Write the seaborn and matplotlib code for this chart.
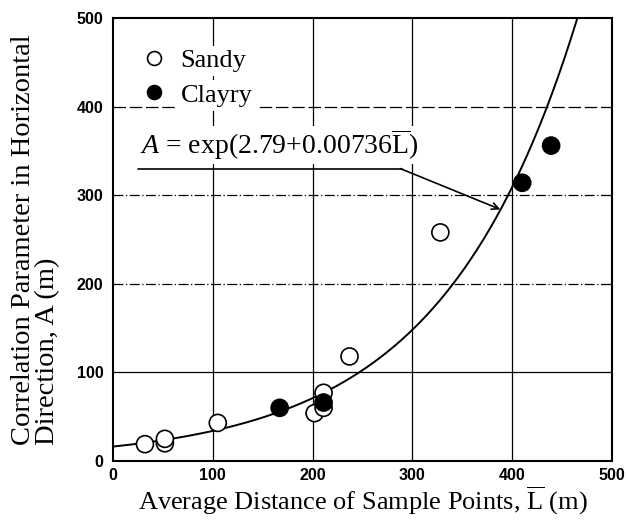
import numpy as np
import matplotlib
matplotlib.use("Agg")
import matplotlib.pyplot as plt
import seaborn as sns
import pandas as pd
from matplotlib.lines import Line2D

# ---- data ----
sandy_x = [32, 52, 52, 105, 202, 211, 211, 237, 328]
sandy_y = [19, 20, 25, 43, 54, 60, 77, 118, 258]
clayry_x = [167, 211, 410, 439]
clayry_y = [60, 66, 314, 356]
fit_intercept = 2.79
fit_slope = 0.00736
x_ticks = [0, 100, 200, 300, 400, 500]
y_ticks = [0, 100, 200, 300, 400, 500]

df = pd.DataFrame({
    "L": sandy_x + clayry_x,
    "A": sandy_y + clayry_y,
    "soil": ["Sandy"] * len(sandy_x) + ["Clayry"] * len(clayry_x),
})

sns.set_theme(style="white")
plt.rcParams["font.family"] = ["Liberation Serif", "DejaVu Serif"]
plt.rcParams["mathtext.fontset"] = "custom"
plt.rcParams["mathtext.rm"] = "Liberation Serif"
plt.rcParams["mathtext.it"] = "Liberation Serif:italic"

fig = plt.figure(figsize=(6.29, 5.21), dpi=100)
ax = fig.add_axes([113 / 629, 60 / 521, 499 / 629, 443 / 521])

# fitted curve from the equation shown on the chart
Lc = np.linspace(0, 500, 400)
Ac = np.exp(fit_intercept + fit_slope * Lc)
ax.plot(Lc, Ac, color="black", lw=1.4, zorder=3)

sns.scatterplot(data=df, x="L", y="A", hue="soil", style="soil",
                palette={"Sandy": "white", "Clayry": "black"},
                markers={"Sandy": "o", "Clayry": "o"},
                edgecolor="black", linewidth=1.2, s=150, ax=ax, zorder=4,
                legend=False)

ax.set_xlim(0, 500)
ax.set_ylim(0, 500)
ax.set_xticks(x_ticks)
ax.set_yticks(y_ticks)
ax.set_xticks([50, 150, 250, 350, 450], minor=True)
ax.set_yticks([50, 150, 250, 350, 450], minor=True)
ax.tick_params(which="both", direction="in", color="black")
ax.tick_params(which="major", length=0, pad=7)
ax.tick_params(axis="x", which="major", pad=5)
ax.tick_params(which="minor", length=5, width=1)
for lab in ax.get_xticklabels() + ax.get_yticklabels():
    lab.set_family(["Liberation Sans", "DejaVu Sans"])
    lab.set_fontweight("bold")
    lab.set_fontsize(11.5)
    lab.set_color("black")

for sp in ax.spines.values():
    sp.set_color("black")
    sp.set_linewidth(1.5)

# grid lines
for xv in [100, 200, 300, 400]:
    ax.axvline(xv, color="black", lw=0.9, zorder=1)
ax.axhline(100, color="black", lw=0.9, zorder=1)
ax.axhline(200, color="black", lw=0.9, ls=(0, (8, 2, 1, 2)), zorder=1)
ax.axhline(300, color="black", lw=0.9, ls=(0, (8, 2, 1, 2)), zorder=1)
ax.axhline(400, color="black", lw=0.9, ls=(0, (10, 3)), zorder=1)

ax.set_xlabel(r"Average Distance of Sample Points, $\overline{\mathrm{L}}$ (m)",
              fontsize=19, color="black", labelpad=1)
ax.set_ylabel("Correlation Parameter in Horizontal\nDirection, A (m)",
              fontsize=20.5, color="black", labelpad=12, multialignment="left",
              linespacing=0.92)

# legend
handles = [Line2D([], [], ls="none", marker="o", ms=10, mfc="white", mec="black", mew=1.2),
           Line2D([], [], ls="none", marker="o", ms=10, mfc="black", mec="black", mew=1.2)]
leg = ax.legend(handles, ["Sandy", "Clayry"], loc="upper left",
                bbox_to_anchor=(0.035, 0.955), frameon=False, fontsize=19,
                handletextpad=0.5, labelspacing=0.42, handlelength=1.0,
                borderaxespad=0)
for t in leg.get_texts():
    t.set_bbox(dict(facecolor="white", edgecolor="none", pad=3))
    t.set_color("black")

# equation annotation
ax.text(27, 346, r"$A$ = exp(2.79+0.00736$\overline{\mathrm{L}}$)", fontsize=20,
        color="black", va="baseline", ha="left", zorder=5,
        bbox=dict(facecolor="white", edgecolor="none", pad=1))
ax.plot([25, 290], [330, 330], color="black", lw=1.2, zorder=5)
ax.annotate("", xy=(388, 284), xytext=(288, 330),
            arrowprops=dict(arrowstyle="->", color="black", lw=1.2,
                            shrinkA=0, shrinkB=0), zorder=5)

fig.savefig("out.png", dpi=100)
